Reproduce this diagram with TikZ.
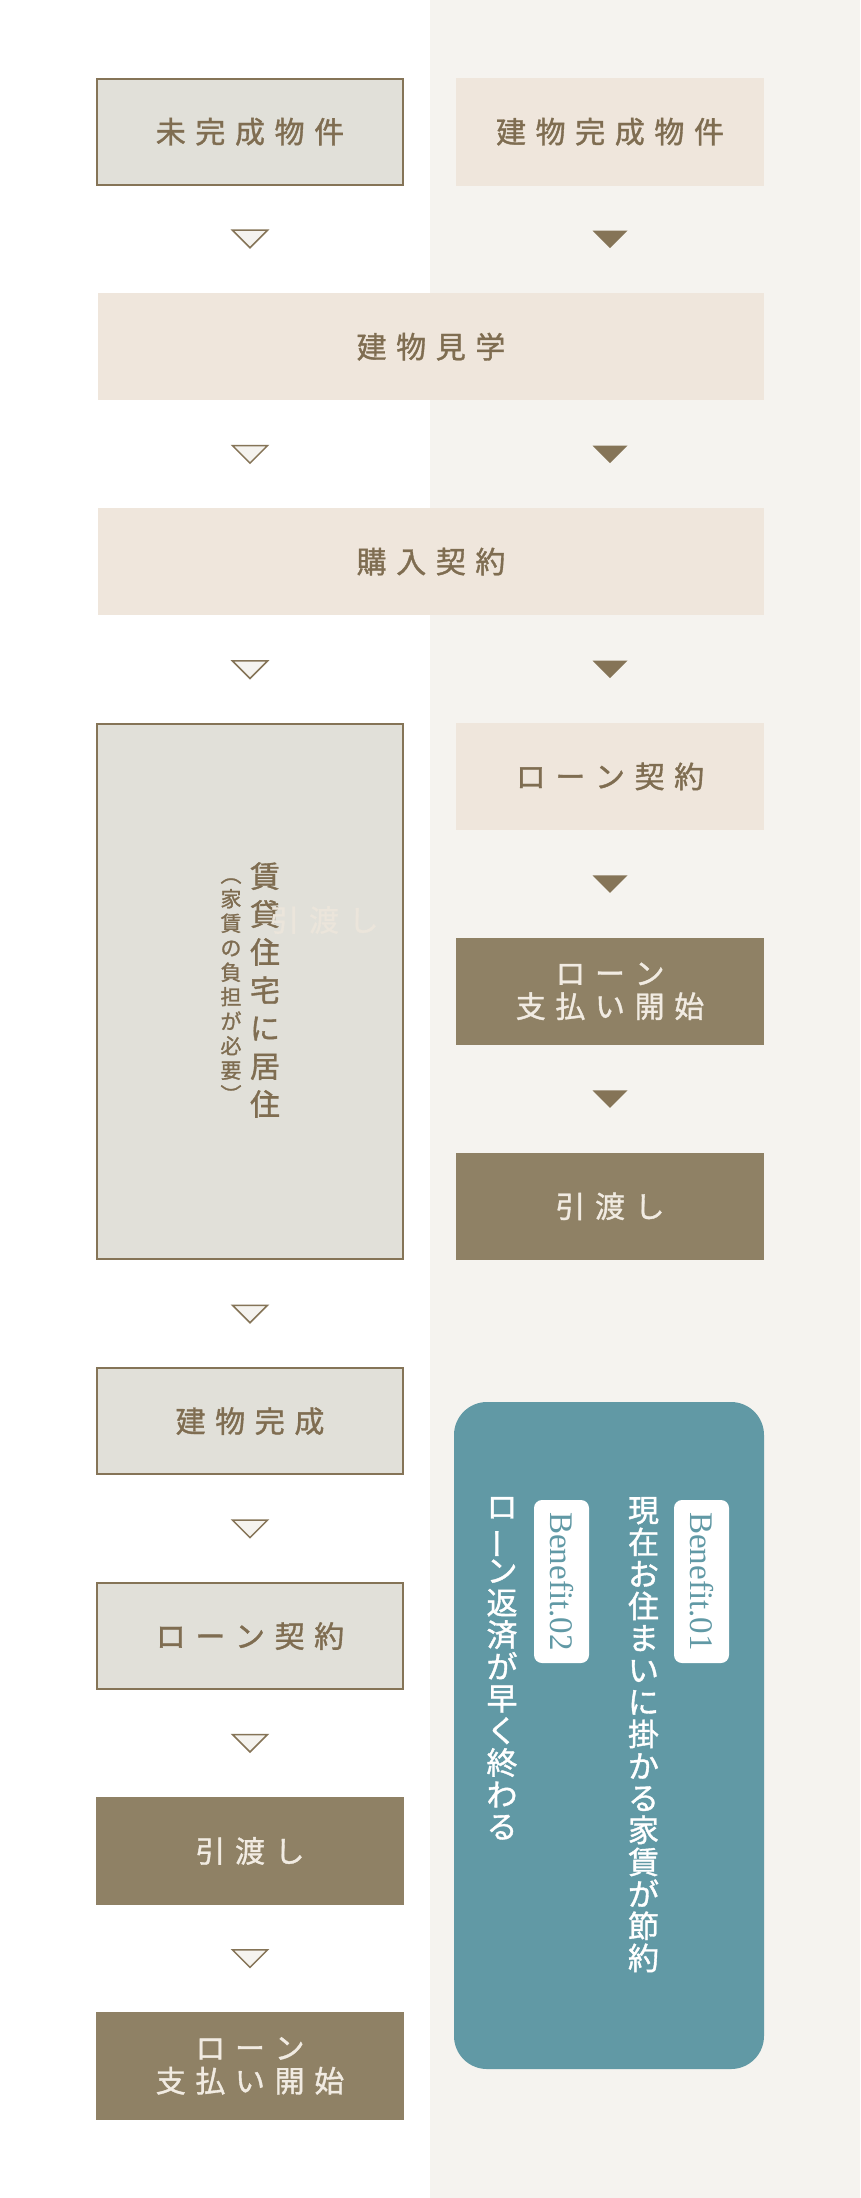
\documentclass[tikz,border=0pt]{standalone}
\usepackage{fontspec}
\setmainfont{Liberation Serif}
\newfontfamily\jpfont[FakeBold=1.2]{Noto Sans CJK JP}
\usetikzlibrary{calc}
\definecolor{bgR}{HTML}{F5F3EF}
\definecolor{grayfill}{HTML}{E1E0D9}
\definecolor{beige}{HTML}{EFE6DC}
\definecolor{darkfill}{HTML}{8F8165}
\definecolor{brownline}{HTML}{857457}
\definecolor{browntext}{HTML}{7F6D51}
\definecolor{creamtext}{HTML}{F1EBE2}
\definecolor{tealbox}{HTML}{6199A5}
\definecolor{ghosttext}{HTML}{EBE5DB}
\def\spaced#1{\spacedA#1\relax}
\def\spacedA#1{#1\spacedB}
\def\spacedB#1{\ifx#1\relax\else\kern0.32em\relax#1\expandafter\spacedB\fi}
\newcommand\flowtri[4]{%
  \path ($(#2.south)!0.5!(#3.north)$) coordinate (tmpm);
  \path (tmpm -| #1) coordinate (tmpc);
  \draw[#4] ([shift={(-17.5,-8.5)}]tmpc) -- ([shift={(17.5,-8.5)}]tmpc) -- ([shift={(0,9)}]tmpc) -- cycle;}
\tikzset{
  every node/.style={inner sep=0pt, outer sep=0pt},
  boxtext/.style={font=\jpfont\fontsize{30}{33}\selectfont, align=center},
  lbox/.style={boxtext, draw=brownline, line width=2pt, fill=grayfill, text=browntext, minimum width=306, minimum height=105.5},
  ldark/.style={boxtext, fill=darkfill, text=creamtext, minimum width=308, minimum height=107.5},
  rlight/.style={boxtext, fill=beige, text=browntext, minimum width=308, minimum height=107.5},
  rdark/.style={boxtext, fill=darkfill, text=creamtext, minimum width=308, minimum height=107.5},
  widebox/.style={boxtext, fill=beige, text=browntext, minimum width=666, minimum height=107.5},
  triO/.style={draw=brownline, line width=1.5pt, fill=bgR, line join=miter},
  triF/.style={fill=brownline, draw=none},
  vcol/.style={font=\jpfont\fontsize{31}{32}\selectfont, text=white, align=center, anchor=north},
  benefit/.style={fill=white, rounded corners=8, minimum width=163, minimum height=55, text=tealbox, font=\fontsize{33}{33}\selectfont, rotate=-90},
}
\begin{document}
\begin{tikzpicture}[x=1pt,y=-1pt]
\useasboundingbox (0,0) rectangle (860,2198);
\fill[white] (0,0) rectangle (430,2198);
\fill[bgR] (430,0) rectangle (860,2198);
\coordinate (cL) at (250,0);
\coordinate (cR) at (610,0);
% boxes
\node[lbox] (L0) at (250,131.75) {\spaced{未完成物件}};
\node[rlight] (R0) at (610,131.75) {\spaced{建物完成物件}};
\node[widebox] (W1) at (431,346.65) {\spaced{建物見学}};
\node[widebox] (W2) at (431,561.55) {\spaced{購入契約}};
\node[lbox, minimum height=535.5] (LT) at (250,991.35) {};
\node[rlight] (R3) at (610,776.45) {\spaced{ローン契約}};
\node[rdark] (R4) at (610,991.35) {\spaced{ローン}\\\spaced{支払い開始}};
\node[rdark] (R5) at (610,1206.25) {\spaced{引渡し}};
\node[lbox] (L6) at (250,1421.15) {\spaced{建物完成}};
\node[lbox] (L7) at (250,1636.05) {\spaced{ローン契約}};
\node[ldark] (L8) at (250,1850.95) {\spaced{引渡し}};
\node[ldark] (L9) at (250,2065.85) {\spaced{ローン}\\\spaced{支払い開始}};
% tall box texts
\node[font=\jpfont\fontsize{30}{38}\selectfont, text=browntext, align=center] (LTmain) at (265,990) {賃\\貸\\住\\宅\\に\\居\\住};
\node[font=\jpfont\fontsize{21}{24.5}\selectfont, text=browntext, align=center] (LTsub) at (231,990.5) {︵\\家\\賃\\の\\負\\担\\が\\必\\要\\︶};
\node[font=\jpfont\fontsize{30}{33}\selectfont, text=ghosttext] (ghost) at (324,920) {\spaced{引渡し}};
% arrows
\flowtri{cL}{L0}{W1}{triO}
\flowtri{cL}{W1}{W2}{triO}
\flowtri{cL}{W2}{LT}{triO}
\flowtri{cL}{LT}{L6}{triO}
\flowtri{cL}{L6}{L7}{triO}
\flowtri{cL}{L7}{L8}{triO}
\flowtri{cL}{L8}{L9}{triO}
\flowtri{cR}{R0}{W1}{triF}
\flowtri{cR}{W1}{W2}{triF}
\flowtri{cR}{W2}{R3}{triF}
\flowtri{cR}{R3}{R4}{triF}
\flowtri{cR}{R4}{R5}{triF}
% benefit panel
\node[fill=tealbox, rounded corners=33, minimum width=310, minimum height=667] (TB) at (609,1735.5) {};
\node[benefit] (B1) at (701.5,1581.5) {Benefit.01};
\node[benefit] (B2) at (561.5,1581.5) {Benefit.02};
\node[vcol] (T1) at (643.5,1497) {現\\在\\お\\住\\ま\\い\\に\\掛\\か\\る\\家\\賃\\が\\節\\約};
\node[vcol] (T2) at (502,1497) {ロ\\\rotatebox[origin=c]{90}{ー}\\ン\\返\\済\\が\\早\\く\\終\\わ\\る};
\end{tikzpicture}
\end{document}
